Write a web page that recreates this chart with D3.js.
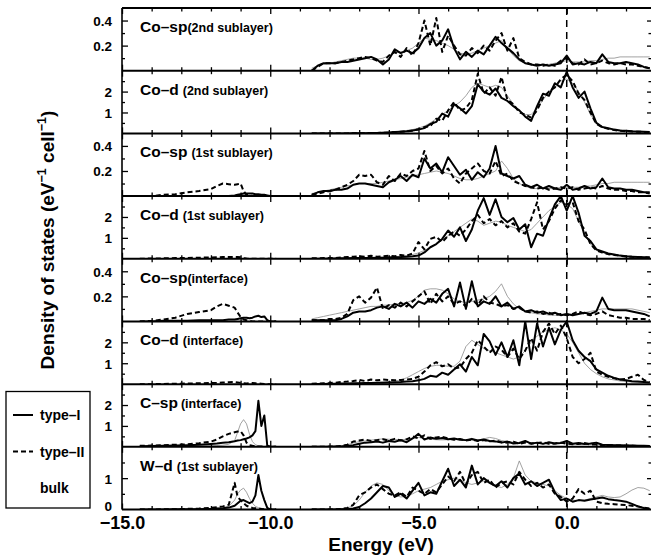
<!DOCTYPE html>
<html>
<head>
<meta charset="utf-8">
<script src="https://cdn.jsdelivr.net/npm/d3@7"></script>
<style>
body { margin: 0; background: #fff; }
svg { display: block; }
text { font-family: "Liberation Sans", Arial, Helvetica, sans-serif; font-weight: bold; fill: #000; }
</style>
</head>
<body>
<svg id="chart" width="651" height="557"></svg>
<script>
// ENERGY GRIDS (eV)
const E_MAIN = d3.range(-8.6, 2.81, 0.2).map(v => +v.toFixed(1))
const E_LOW = [-14.4, -14.0, -13.6, -13.2, -12.8, -12.4, -12.0, -11.8, -11.6, -11.4, -11.2, -11.1, -11.0, -10.9, -10.8, -10.7, -10.6, -10.5, -10.4, -10.3, -10.2, -10.1, -10.0, -9.8]
const X_LABELS = [-15, -10, -5, 0]

// Co-sp (2nd sublayer)
const cosp2_I = [0.0,0.04,0.06,0.06,0.06,0.07,0.07,0.08,0.09,0.10, 0.11,0.09,0.05,0.09,0.17,0.14,0.16,0.14,0.18,0.26, 0.30,0.20,0.24,0.33,0.18,0.09,0.15,0.11,0.16,0.13, 0.20,0.27,0.22,0.18,0.14,0.09,0.06,0.05,0.04,0.05, 0.04,0.05,0.06,0.12,0.05,0.06,0.05,0.07,0.06,0.13, 0.07,0.06,0.06,0.07,0.06,0.05,0.03,0.02]
const cosp2_II = [0.0,0.03,0.06,0.06,0.06,0.07,0.08,0.09,0.10,0.11, 0.10,0.08,0.07,0.12,0.15,0.11,0.18,0.12,0.22,0.40, 0.20,0.42,0.15,0.28,0.20,0.13,0.12,0.18,0.14,0.20, 0.16,0.24,0.30,0.16,0.26,0.10,0.07,0.05,0.05,0.04, 0.05,0.04,0.08,0.10,0.06,0.05,0.09,0.05,0.06,0.08, 0.06,0.05,0.06,0.05,0.05,0.04,0.03,0.02]
const cosp2_B = [0.02,0.04,0.05,0.06,0.07,0.08,0.09,0.10,0.10,0.10, 0.09,0.09,0.10,0.12,0.14,0.15,0.16,0.18,0.22,0.26, 0.25,0.24,0.22,0.20,0.17,0.14,0.13,0.14,0.16,0.18, 0.20,0.22,0.24,0.18,0.12,0.08,0.06,0.05,0.05,0.05, 0.05,0.06,0.07,0.08,0.07,0.07,0.07,0.08,0.08,0.09, 0.10,0.10,0.11,0.11,0.11,0.11,0.11,0.11]

// Co-d (2nd sublayer)
const cod2_I = [0,0,0,0,0,0,0,0.01,0.01,0.01, 0.02,0.02,0.03,0.04,0.06,0.08,0.10,0.14,0.18,0.25, 0.45,0.55,0.95,0.80,1.40,1.20,0.95,1.30,2.35,2.00, 1.85,2.15,1.70,1.55,1.30,1.10,0.80,0.60,1.30,1.90, 1.80,2.40,2.20,2.95,2.20,1.70,2.00,1.20,0.50,0.30, 0.25,0.18,0.14,0.12,0.10,0.09,0.08,0.06]
const cod2_II = [0,0,0,0,0,0,0,0.01,0.01,0.01, 0.02,0.02,0.03,0.04,0.06,0.08,0.10,0.12,0.20,0.30, 0.35,0.70,0.60,1.10,1.50,1.10,1.20,1.60,2.85,1.90, 2.20,1.80,2.70,1.60,1.40,1.00,0.90,0.75,1.10,1.70, 2.00,2.20,2.60,2.80,2.50,1.90,1.60,1.00,0.45,0.30, 0.22,0.16,0.12,0.10,0.09,0.08,0.07,0.05]
const cod2_B = [0,0,0,0,0,0,0.01,0.01,0.02,0.02, 0.03,0.04,0.05,0.06,0.08,0.10,0.14,0.18,0.25,0.35, 0.50,0.70,0.90,1.10,1.30,1.50,1.80,2.20,2.40,2.30, 2.20,2.30,2.20,1.80,1.40,1.10,0.90,0.90,1.20,1.60, 2.00,2.30,2.50,2.60,2.40,2.00,1.50,0.90,0.50,0.30, 0.20,0.15,0.12,0.10,0.08,0.07,0.06,0.05]

// Co-sp (1st sublayer)
const cosp1_I = [0.01,0.03,0.04,0.04,0.05,0.05,0.06,0.09,0.10,0.10, 0.09,0.08,0.07,0.11,0.13,0.16,0.12,0.17,0.15,0.30, 0.22,0.26,0.19,0.31,0.24,0.17,0.21,0.13,0.19,0.15, 0.22,0.40,0.18,0.16,0.14,0.16,0.09,0.07,0.09,0.06, 0.08,0.06,0.05,0.09,0.05,0.06,0.08,0.06,0.07,0.14, 0.07,0.06,0.06,0.05,0.05,0.04,0.03,0.03]
const cosp1_II = [0.01,0.02,0.03,0.04,0.05,0.07,0.09,0.12,0.17,0.16, 0.17,0.11,0.09,0.16,0.12,0.18,0.16,0.20,0.22,0.36, 0.20,0.24,0.18,0.22,0.14,0.10,0.18,0.22,0.26,0.20, 0.18,0.28,0.16,0.18,0.12,0.10,0.08,0.07,0.06,0.07, 0.05,0.06,0.07,0.06,0.07,0.05,0.06,0.07,0.06,0.08, 0.06,0.05,0.05,0.04,0.04,0.03,0.03,0.02]
const cosp1_B = [0.02,0.03,0.04,0.05,0.06,0.07,0.08,0.09,0.10,0.10, 0.10,0.10,0.11,0.12,0.13,0.14,0.15,0.16,0.17,0.18, 0.19,0.20,0.19,0.18,0.16,0.14,0.13,0.13,0.14,0.16, 0.18,0.20,0.28,0.22,0.14,0.10,0.08,0.06,0.06,0.06, 0.06,0.06,0.07,0.07,0.07,0.07,0.08,0.08,0.09,0.10, 0.10,0.11,0.11,0.11,0.11,0.11,0.11,0.11]
const cosp1_lowI = [0,0,0,0,0,0,0,0,0,0, 0.005,0.01,0.015,0.02,0.02,0.02,0.02,0.015,0.015,0.01, 0.01,0.005,0,0]
const cosp1_lowII = [0,0,0.01,0.015,0.03,0.04,0.055,0.08,0.10,0.095, 0.09,0.095,0.10,0.04,0.01,0.005,0,0,0,0, 0,0,0,0]

// Co-d (1st sublayer)
const cod1_I = [0,0,0,0.01,0.01,0.02,0.02,0.03,0.03,0.04, 0.04,0.05,0.05,0.06,0.07,0.08,0.10,0.12,0.15,0.30, 0.55,0.70,0.95,1.35,1.05,1.50,0.85,1.40,2.30,2.90, 2.10,2.85,2.00,1.75,1.95,1.40,1.65,0.55,1.20,1.10, 1.90,2.60,3.00,2.30,3.00,2.20,1.10,0.85,0.45,0.35, 0.25,0.20,0.15,0.12,0.10,0.08,0.07,0.06]
const cod1_II = [0.02,0.02,0.03,0.03,0.04,0.06,0.08,0.10,0.12,0.10, 0.14,0.10,0.12,0.15,0.12,0.18,0.15,0.25,0.80,0.45, 0.95,1.05,0.80,1.10,1.30,1.10,1.40,1.80,2.10,1.70, 1.90,1.60,1.80,1.50,1.70,1.30,1.20,1.90,2.70,1.40, 1.80,2.40,2.80,2.60,2.70,1.80,1.40,0.70,0.40,0.30, 0.22,0.18,0.14,0.11,0.09,0.08,0.07,0.06]
const cod1_B = [0,0,0,0,0.01,0.01,0.02,0.02,0.03,0.04, 0.05,0.06,0.07,0.08,0.10,0.12,0.15,0.20,0.28,0.40, 0.55,0.70,0.90,1.10,1.30,1.50,1.70,1.90,1.80,1.60, 1.70,1.80,1.75,1.60,1.50,1.40,1.30,1.40,1.70,2.00, 2.30,2.50,2.70,2.60,2.40,1.80,1.20,0.70,0.40,0.30, 0.22,0.17,0.14,0.12,0.10,0.09,0.08,0.07]
const cod1_lowII = [0,0.01,0.02,0.03,0.04,0.05,0.06,0.07,0.08,0.08, 0.08,0.08,0.07,0.03,0.01,0,0,0,0,0, 0,0,0,0]

// Co-sp (interface)
const cospI_I = [0.01,0.01,0.01,0.01,0.01,0.02,0.04,0.07,0.08,0.08, 0.09,0.11,0.12,0.10,0.14,0.12,0.15,0.11,0.16,0.14, 0.18,0.15,0.22,0.26,0.12,0.31,0.10,0.32,0.12,0.16, 0.14,0.20,0.12,0.15,0.10,0.12,0.08,0.09,0.07,0.08, 0.06,0.07,0.05,0.06,0.05,0.06,0.07,0.06,0.08,0.19, 0.10,0.09,0.09,0.09,0.08,0.07,0.06,0.04]
const cospI_II = [0.01,0.01,0.01,0.02,0.02,0.03,0.06,0.17,0.20,0.15, 0.19,0.27,0.10,0.13,0.11,0.15,0.12,0.16,0.20,0.24, 0.14,0.22,0.16,0.20,0.14,0.16,0.12,0.18,0.13,0.20, 0.15,0.14,0.12,0.13,0.10,0.11,0.08,0.07,0.08,0.06, 0.07,0.05,0.06,0.05,0.06,0.08,0.06,0.05,0.06,0.08, 0.05,0.04,0.03,0.03,0.02,0.02,0.02,0.01]
const cospI_B = [0.02,0.03,0.04,0.05,0.06,0.07,0.08,0.09,0.10,0.11, 0.12,0.12,0.13,0.13,0.14,0.14,0.15,0.17,0.20,0.25, 0.26,0.26,0.25,0.22,0.18,0.16,0.15,0.16,0.17,0.18, 0.20,0.24,0.30,0.20,0.14,0.10,0.08,0.07,0.06,0.06, 0.05,0.05,0.05,0.05,0.06,0.06,0.07,0.08,0.09,0.10, 0.10,0.10,0.10,0.10,0.10,0.09,0.08,0.07]
const cospI_lowI = [0,0,0.005,0.005,0.005,0.01,0.01,0.01,0.01,0.015, 0.015,0.02,0.025,0.03,0.03,0.025,0.03,0.04,0.045,0.035, 0.04,0.01,0,0]
const cospI_lowII = [0,0.005,0.015,0.03,0.06,0.075,0.09,0.12,0.14,0.125, 0.11,0.07,0.035,0.015,0.01,0.005,0,0,0,0, 0,0,0,0]

// Co-d (interface)
const codI_I = [0,0.01,0.01,0.02,0.02,0.03,0.03,0.04,0.04,0.05, 0.05,0.06,0.07,0.08,0.09,0.10,0.12,0.14,0.18,0.25, 0.40,0.35,0.55,0.45,0.70,0.95,0.60,1.30,0.90,2.40, 2.05,1.40,2.00,1.30,2.10,0.90,3.00,1.20,2.90,1.80, 2.70,1.90,2.60,3.00,2.10,1.60,1.30,1.10,0.70,0.55, 0.40,0.30,0.22,0.18,0.14,0.12,0.10,0.08]
const codI_II = [0.02,0.03,0.04,0.05,0.07,0.10,0.12,0.15,0.20,0.15, 0.22,0.18,0.22,0.20,0.18,0.20,0.22,0.25,0.35,0.60, 0.90,1.05,0.85,0.95,0.75,0.80,1.20,1.50,2.10,1.80, 1.50,1.80,1.65,1.30,1.70,1.20,1.60,2.20,1.60,2.50, 2.90,2.40,2.80,2.20,1.30,1.00,1.20,1.50,0.60,0.45, 0.35,0.28,0.22,0.25,0.35,0.45,0.20,0.08]
const codI_B = [0,0,0.01,0.01,0.02,0.02,0.03,0.04,0.05,0.06, 0.07,0.08,0.10,0.12,0.15,0.20,0.30,0.45,0.60,0.75, 0.85,0.90,0.90,0.85,0.85,1.10,1.80,2.10,1.90,1.70, 1.60,1.50,1.40,1.30,1.20,1.30,1.60,2.00,2.30,2.50, 2.60,2.70,2.60,2.40,2.00,1.50,1.00,0.70,0.50,0.35, 0.25,0.20,0.15,0.12,0.10,0.08,0.07,0.06]
const codI_lowII = [0,0,0.01,0.02,0.03,0.04,0.05,0.06,0.08,0.09, 0.10,0.08,0.06,0.04,0.03,0.04,0.05,0.04,0.03,0.02, 0.01,0,0,0]

// C-sp (interface)
const csp_I = [0,0,0,0,0.01,0.02,0.04,0.08,0.15,0.20, 0.22,0.25,0.20,0.28,0.24,0.32,0.22,0.40,0.62,0.35, 0.45,0.38,0.42,0.36,0.40,0.34,0.32,0.38,0.30,0.35, 0.28,0.26,0.20,0.25,0.16,0.18,0.28,0.15,0.20,0.14, 0.22,0.16,0.18,0.28,0.15,0.18,0.14,0.16,0.20,0.10, 0.09,0.08,0.07,0.06,0.06,0.05,0.05,0.04]
const csp_II = [0,0,0,0.01,0.02,0.04,0.10,0.25,0.30,0.35, 0.28,0.32,0.36,0.30,0.38,0.30,0.36,0.50,0.40,0.55, 0.38,0.45,0.48,0.40,0.34,0.38,0.30,0.34,0.28,0.32, 0.26,0.30,0.22,0.20,0.24,0.15,0.20,0.16,0.18,0.22, 0.14,0.16,0.20,0.15,0.12,0.14,0.18,0.10,0.12,0.08, 0.08,0.07,0.06,0.05,0.05,0.04,0.03,0.03]
const csp_B = [0,0,0,0.01,0.02,0.05,0.10,0.18,0.25,0.28, 0.32,0.35,0.38,0.36,0.35,0.34,0.36,0.40,0.45,0.40, 0.36,0.34,0.33,0.34,0.36,0.35,0.32,0.30,0.32,0.38, 0.45,0.40,0.30,0.25,0.22,0.20,0.22,0.20,0.18,0.17, 0.16,0.17,0.18,0.16,0.14,0.13,0.12,0.11,0.10,0.10, 0.09,0.09,0.08,0.08,0.07,0.07,0.06,0.06]
const csp_lowI = [0.03,0.04,0.05,0.06,0.08,0.10,0.14,0.16,0.19,0.22, 0.27,0.30,0.32,0.36,0.40,0.45,0.55,0.75,2.20,1.00, 1.50,0.05,0,0]
const csp_lowII = [0.05,0.06,0.08,0.10,0.12,0.17,0.25,0.35,0.50,0.62, 0.70,0.73,0.75,0.55,0.20,0.08,0.05,0.03,0.02,0.01, 0.01,0,0,0]
const csp_lowB = [0,0.01,0.01,0.02,0.03,0.04,0.05,0.06,0.08,0.12, 0.30,0.70,1.10,1.30,1.10,0.60,0.25,0.10,0.05,0.03, 0.02,0.01,0,0]

// W-d (1st sublayer)
const wd_I = [0,0,0,0,0,0.01,0.01,0.03,0.08,0.20, 0.35,0.55,0.75,0.70,0.40,0.50,0.35,0.60,0.85,0.45, 0.55,0.50,0.90,1.30,0.75,0.95,0.70,1.40,0.80,1.00, 0.85,0.75,0.90,0.70,1.00,1.15,0.80,0.90,0.75,0.85, 0.95,0.55,0.30,0.35,0.25,0.30,0.28,0.32,0.35,0.38, 0.33,0.30,0.28,0.25,0.18,0.10,0.05,0.02]
const wd_II = [0,0,0,0,0.01,0.02,0.05,0.15,0.45,0.55, 0.70,0.80,0.65,0.50,0.45,0.55,0.40,0.70,0.60,0.50, 0.65,0.55,0.80,1.05,0.90,1.20,0.80,1.10,1.20,0.85, 0.95,0.70,0.85,0.90,0.80,1.20,0.95,0.75,0.85,0.70, 0.80,0.50,0.40,0.25,0.35,0.65,0.50,0.60,0.25,0.20, 0.18,0.17,0.15,0.14,0.12,0.10,0.06,0.03]
const wd_B = [0,0,0,0,0.01,0.02,0.05,0.12,0.30,0.55, 0.75,0.85,0.80,0.60,0.45,0.40,0.42,0.50,0.60,0.65, 0.70,0.80,0.90,0.95,1.00,0.95,0.85,0.80,0.85,0.90, 0.85,0.75,0.70,0.80,1.00,1.55,1.10,0.90,0.85,0.80, 0.75,0.60,0.45,0.35,0.30,0.28,0.30,0.35,0.40,0.45, 0.40,0.38,0.40,0.50,0.62,0.70,0.68,0.60]
const wd_lowI = [0,0,0,0.01,0.01,0.01,0.02,0.03,0.04,0.06, 0.12,0.20,0.28,0.30,0.25,0.20,0.25,0.45,1.10,0.60, 0.30,0.05,0,0]
const wd_lowII = [0,0,0.01,0.01,0.02,0.03,0.05,0.07,0.10,0.15, 0.85,0.40,0.30,0.20,0.12,0.08,0.05,0.04,0.03,0.02, 0.01,0,0,0]
const wd_lowB = [0,0,0,0.01,0.01,0.02,0.03,0.04,0.06,0.10, 0.30,0.50,0.62,0.68,0.55,0.35,0.20,0.10,0.06,0.04, 0.02,0.01,0,0]

// PANEL TABLE BUILT FROM THE ARRAYS
const PANELS = [
	{ label: 'Co–sp', sub: '(2nd sublayer)', gap: 0, max: 0.5, step: 0.1, labels: [0.2, 0.4], fmt: '.1f', I: cosp2_I, II: cosp2_II, B: cosp2_B },
	{ label: 'Co–d', sub: '(2nd sublayer)', gap: 4, max: 3, step: 0.5, labels: [1, 2], fmt: 'd', I: cod2_I, II: cod2_II, B: cod2_B },
	{ label: 'Co–sp', sub: '(1st sublayer)', gap: 4, max: 0.5, step: 0.1, labels: [0.2, 0.4], fmt: '.1f', I: cosp1_I, II: cosp1_II, B: cosp1_B, lowI: cosp1_lowI, lowII: cosp1_lowII },
	{ label: 'Co–d', sub: '(1st sublayer)', gap: 4, max: 3, step: 0.5, labels: [1, 2], fmt: 'd', I: cod1_I, II: cod1_II, B: cod1_B, lowII: cod1_lowII },
	{ label: 'Co–sp', sub: '(interface)', gap: 0, max: 0.5, step: 0.1, labels: [0.2, 0.4], fmt: '.1f', I: cospI_I, II: cospI_II, B: cospI_B, lowI: cospI_lowI, lowII: cospI_lowII },
	{ label: 'Co–d', sub: '(interface)', gap: 4, max: 3, step: 0.5, labels: [1, 2], fmt: 'd', I: codI_I, II: codI_II, B: codI_B, lowII: codI_lowII },
	{ label: 'C–sp', sub: '(interface)', gap: 3, max: 3, step: 0.5, labels: [1, 2], fmt: 'd', I: csp_I, II: csp_II, B: csp_B, lowI: csp_lowI, lowII: csp_lowII, lowB: csp_lowB },
	{ label: 'W–d', sub: '(1st sublayer)', gap: 4, max: 2, step: 0.5, labels: [0, 1], fmt: 'd', I: wd_I, II: wd_II, B: wd_B, lowI: wd_lowI, lowII: wd_lowII, lowB: wd_lowB }
]

function draw () {
	const svg = d3.select('#chart')
	// right frame edge sits just past the window, as in the reference
	const mLeft = 122, mRight = 653, mTop = 8, mBottom = 509.5
	const ph = (mBottom - mTop) / PANELS.length

	const x = d3.scaleLinear().domain([-15, 2.91]).range([mLeft, mRight])
	const xMinor = d3.range(-15, 3, 1).filter(d => d % 5 !== 0)
	const xMajor = [-15, -10, -5, 0]

	const styles = {
		B: { stroke: '#8a8a8a', width: 0.8, dash: null },
		II: { stroke: '#000', width: 2, dash: '5,3' },
		I: { stroke: '#000', width: 2, dash: null }
	}

	PANELS.forEach((p, i) => {
		const y0 = mTop + i * ph
		const y = d3.scaleLinear().domain([0, p.max]).range([y0 + ph, y0])
		const g = svg.append('g').attr('class', 'panel')

		svg.append('clipPath').attr('id', `clip${i}`)
			.append('rect')
			.attr('x', mLeft).attr('y', y0).attr('width', mRight - mLeft).attr('height', ph)

		const curves = g.append('g').attr('clip-path', `url(#clip${i})`)
		const lineOf = grid => d3.line().x((d, k) => x(grid[k])).y(d => y(d))

		// BULK FIRST, THEN TYPE-II, THEN TYPE-I ON TOP
		;['B', 'II', 'I'].forEach(key => {
			const s = styles[key]
			const sets = [[E_MAIN, p[key]], [E_LOW, p['low' + key]]].filter(d => d[1])
			sets.forEach(([grid, vals]) => {
				curves.append('path')
					.attr('d', lineOf(grid)(vals))
					.attr('fill', 'none')
					.attr('stroke', s.stroke)
					.attr('stroke-width', s.width)
					.attr('stroke-dasharray', s.dash)
					.attr('stroke-linejoin', 'round')
			})
		})

		// Y TICKS (INWARD, BOTH SIDES)
		const yTicks = d3.range(0, p.max + 1e-9, p.step).filter(d => d > 1e-9 && d < p.max - 1e-9)
		const yMajor = yTicks.filter(d => p.labels.includes(+d.toFixed(2)))
		const yMinor = yTicks.filter(d => !p.labels.includes(+d.toFixed(2)))
		const yAx = (axis, xpos, vals, size) => {
			g.append('g').attr('transform', `translate(${xpos},0)`)
				.call(axis(y).tickValues(vals).tickSize(size).tickSizeOuter(0).tickFormat(''))
				.call(a => a.select('.domain').remove())
				.call(a => a.selectAll('line').attr('stroke-width', 1.3))
		}
		yAx(d3.axisRight, mLeft, yMinor, 3)
		yAx(d3.axisRight, mLeft, yMajor, 6)
		yAx(d3.axisLeft, mRight, yMinor, 4.5)
		yAx(d3.axisLeft, mRight, yMajor, 6)

		// Y LABELS
		g.append('g').attr('transform', `translate(${mLeft},0)`)
			.call(d3.axisLeft(y).tickValues(p.labels).tickSize(0).tickPadding(10).tickFormat(d3.format(p.fmt)))
			.call(a => a.select('.domain').remove())
			.call(a => a.selectAll('text').attr('font-size', 13.5).attr('font-family', null)
				.attr('dy', d => d === 0 ? '0.05em' : '0.36em'))

		// X TICKS ON PANEL TOP (DOWN) AND BOTTOM (UP)
		const xAx = (axis, ypos, vals, size) => {
			g.append('g').attr('transform', `translate(0,${ypos})`)
				.call(axis(x).tickValues(vals).tickSize(size).tickSizeOuter(0).tickFormat(''))
				.call(a => a.select('.domain').remove())
				.call(a => a.selectAll('line').attr('stroke-width', 1.3))
		}
		xAx(d3.axisBottom, y0, xMinor, 3.5)
		xAx(d3.axisBottom, y0, xMajor, 6)
		xAx(d3.axisTop, y0 + ph, xMinor, 3.5)
		xAx(d3.axisTop, y0 + ph, xMajor, 6)

		// PANEL LABEL
		const t = g.append('text').attr('x', 140).attr('y', y0 + 24)
		t.append('tspan').attr('font-size', 15.5).text(p.label)
		t.append('tspan').attr('font-size', 12.5).attr('dx', p.gap).text(p.sub)
	})

	// PANEL FRAME
	const frame = svg.append('g').attr('stroke', '#000').attr('fill', 'none')
	d3.range(PANELS.length + 1).forEach(i => {
		frame.append('line').attr('x1', mLeft).attr('x2', mRight)
			.attr('y1', mTop + i * ph).attr('y2', mTop + i * ph).attr('stroke-width', 2)
	})
	frame.append('line').attr('x1', mLeft).attr('x2', mLeft).attr('y1', mTop).attr('y2', mBottom).attr('stroke-width', 1.6)
	frame.append('line').attr('x1', mRight).attr('x2', mRight).attr('y1', mTop).attr('y2', mBottom).attr('stroke-width', 1.6)

	// FERMI LEVEL
	svg.append('line')
		.attr('x1', x(0)).attr('x2', x(0)).attr('y1', mTop).attr('y2', mBottom)
		.attr('stroke', '#000').attr('stroke-width', 1.5).attr('stroke-dasharray', '7,5')

	// X AXIS LABELS
	svg.append('g').attr('transform', `translate(0,${mBottom})`)
		.call(d3.axisBottom(x).tickValues(X_LABELS).tickSize(0).tickPadding(6.5).tickFormat(d3.format('.1f')))
		.call(a => a.select('.domain').remove())
		.call(a => a.selectAll('text').attr('font-size', 18).attr('font-family', null))

	svg.append('text').attr('x', 381).attr('y', 551).attr('text-anchor', 'middle')
		.attr('font-size', 19).text('Energy (eV)')

	// Y AXIS TITLE
	const yt = svg.append('text').attr('transform', 'translate(53.5,240) rotate(-90)')
		.attr('text-anchor', 'middle').attr('font-size', 19)
	yt.append('tspan').text('Density of states (eV')
	yt.append('tspan').attr('font-size', 12.5).attr('dy', -8).text('−1')
	yt.append('tspan').attr('dy', 8).text(' cell')
	yt.append('tspan').attr('font-size', 12.5).attr('dy', -8).text('−1')
	yt.append('tspan').attr('dy', 8).text(')')

	// LEGEND
	const lg = svg.append('g')
	lg.append('rect').attr('x', 6).attr('y', 391.5).attr('width', 84).attr('height', 116.5)
		.attr('fill', '#fff').attr('stroke', '#000').attr('stroke-width', 1.3)
	const legendItems = [
		{ key: 'I', text: 'type–I', y: 415 },
		{ key: 'II', text: 'type–II', y: 451.5 },
		{ key: 'B', text: 'bulk', y: 487.5 }
	]
	legendItems.forEach(d => {
		if (d.key !== 'B') {
			lg.append('line').attr('x1', 13).attr('x2', 33).attr('y1', d.y).attr('y2', d.y)
				.attr('stroke', '#000').attr('stroke-width', 2).attr('stroke-dasharray', styles[d.key].dash)
		}
		lg.append('text').attr('x', 40).attr('y', d.y + 5).attr('font-size', 14).text(d.text)
	})
}

draw()
</script>
</body>
</html>
